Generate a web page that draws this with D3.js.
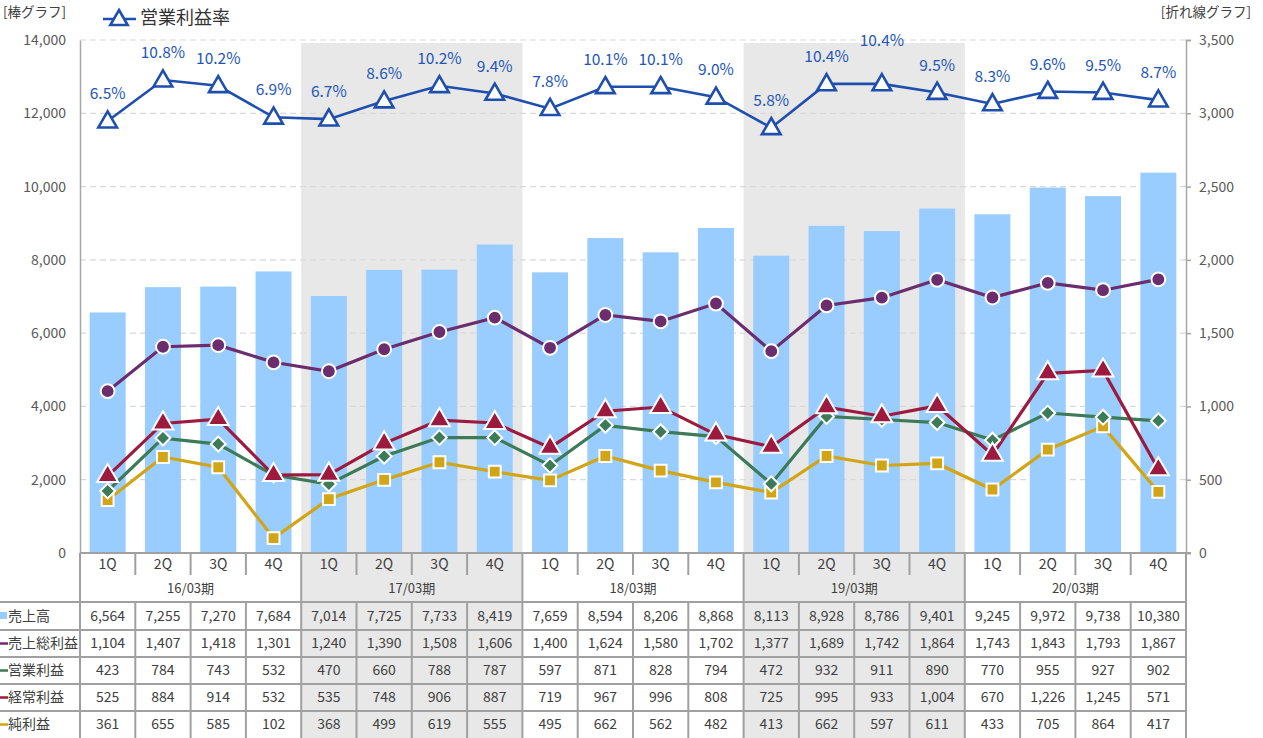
<!DOCTYPE html>
<html><head><meta charset="utf-8">
<script src="https://cdn.jsdelivr.net/npm/d3@7"></script>
<style>
body{margin:0;background:#fff;}
svg{display:block;font-family:"Noto Sans CJK JP","Noto Sans",sans-serif;}
</style></head>
<body>
<script>
const quarters = ["1Q","2Q","3Q","4Q"];
const periods = ["16/03期","17/03期","18/03期","19/03期","20/03期"];
const shadedPeriods = [1,3];
const sales = [6564,7255,7270,7684,7014,7725,7733,8419,7659,8594,8206,8868,8113,8928,8786,9401,9245,9972,9738,10380];
const grossProfit = [1104,1407,1418,1301,1240,1390,1508,1606,1400,1624,1580,1702,1377,1689,1742,1864,1743,1843,1793,1867];
const opProfit = [423,784,743,532,470,660,788,787,597,871,828,794,472,932,911,890,770,955,927,902];
const ordProfit = [525,884,914,532,535,748,906,887,719,967,996,808,725,995,933,1004,670,1226,1245,571];
const netProfit = [361,655,585,102,368,499,619,555,495,662,562,482,413,662,597,611,433,705,864,417];
const opMargin = [6.5,10.8,10.2,6.9,6.7,8.6,10.2,9.4,7.8,10.1,10.1,9.0,5.8,10.4,10.4,9.5,8.3,9.6,9.5,8.7];
const leftTicks = [0,2000,4000,6000,8000,10000,12000,14000];
const rightTicks = [0,500,1000,1500,2000,2500,3000,3500];

const W=1263,H=738;
const L=80,R=1186,T=40,B=553;
const svg=d3.select("body").append("svg").attr("width",W).attr("height",H);

const n=sales.length;
const x=d3.scaleBand().domain(d3.range(n)).range([L,R]).paddingInner(0).paddingOuter(0);
const cx=i=>x(i)+x.bandwidth()/2;
const yL=d3.scaleLinear().domain([0,14000]).range([B,T]);
const yR=d3.scaleLinear().domain([0,3500]).range([B,T]);
const yP=d3.scaleLinear().domain([0,10]).range([183,87.7]);

const qRowBot=575, pRowBot=602;
const rowLines=[602,630,657,684,711,738];

shadedPeriods.forEach(p=>{
  svg.append("rect").attr("x",x(p*4)).attr("y",43).attr("width",x.bandwidth()*4).attr("height",H-43).attr("fill","#e8e8e8");
});

svg.append("g").selectAll("line").data(leftTicks.filter(d=>d>0)).join("line")
  .attr("x1",L).attr("x2",R).attr("y1",d=>yL(d)).attr("y2",d=>yL(d))
  .attr("stroke","#d9d9d9").attr("stroke-width",1.2).attr("stroke-dasharray","6,4");

svg.append("g").selectAll("rect").data(sales).join("rect")
  .attr("x",(d,i)=>cx(i)-18).attr("width",36)
  .attr("y",d=>yL(d)).attr("height",d=>B-yL(d)).attr("fill","#99ccff");

const axL=svg.append("g").attr("transform",`translate(${L},0)`).call(d3.axisLeft(yL).tickValues(leftTicks).tickSize(0).tickPadding(14).tickFormat(d3.format(",")));
axL.select(".domain").attr("stroke","#a6a6a6").attr("stroke-width",1.5);
axL.selectAll("text").attr("font-size",14).attr("fill","#595959").attr("font-family","'Noto Sans CJK JP'");
const axR=svg.append("g").attr("transform",`translate(${R},0)`).call(d3.axisRight(yR).tickValues(rightTicks).tickSize(5).tickPadding(8).tickFormat(d3.format(",")));
axR.select(".domain").attr("stroke","#a6a6a6").attr("stroke-width",1.5);
axR.selectAll(".tick line").attr("stroke","#a6a6a6").attr("stroke-width",1.5);
axR.selectAll("text").attr("font-size",14).attr("fill","#595959").attr("font-family","'Noto Sans CJK JP'");

const series=[
  {name:"売上総利益",data:grossProfit,color:"#6b2d6e",shape:"circle"},
  {name:"営業利益",data:opProfit,color:"#3d7a57",shape:"diamond"},
  {name:"経常利益",data:ordProfit,color:"#9c1a3e",shape:"triangle"},
  {name:"純利益",data:netProfit,color:"#d2a517",shape:"square"}
];
const lineGen=d3.line().x((d,i)=>cx(i));
const drawOrder=[3,1,2,0];
drawOrder.forEach(k=>{
  const s=series[k];
  svg.append("path").datum(s.data).attr("fill","none").attr("stroke",s.color).attr("stroke-width",3.2)
    .attr("d",lineGen.y(d=>yR(d)));
});
const symMap={circle:[d3.symbolCircle,150,0],diamond:[d3.symbolSquare,110,45],triangle:[d3.symbolTriangle,190,0],square:[d3.symbolSquare,140,0]};
drawOrder.forEach(k=>{
  const s=series[k];
  const [t,sz,rot]=symMap[s.shape];
  svg.append("g").selectAll("path").data(s.data).join("path")
    .attr("transform",(d,i)=>`translate(${cx(i)},${yR(d)}) rotate(${rot})`)
    .attr("d",d3.symbol().type(t).size(sz)())
    .attr("fill",s.color).attr("stroke","#fff").attr("stroke-width",2);
});

const blue="#1f4fae";
svg.append("path").datum(opMargin).attr("fill","none").attr("stroke",blue).attr("stroke-width",2.6)
  .attr("d",d3.line().x((d,i)=>cx(i)).y(d=>yP(d)));
svg.append("g").selectAll("path").data(opMargin).join("path")
  .attr("transform",(d,i)=>`translate(${cx(i)},${yP(d)+1})`)
  .attr("d",d3.symbol().type(d3.symbolTriangle).size(150)())
  .attr("fill","#fff").attr("stroke",blue).attr("stroke-width",2.6);
svg.append("g").selectAll("text").data(opMargin).join("text")
  .attr("x",(d,i)=>cx(i)).attr("y",(d,i)=>yP(d)-(i===14?42:26))
  .attr("text-anchor","middle").attr("dominant-baseline","middle")
  .attr("font-size",15.5).attr("fill","#2356b8")
  .text(d=>d3.format(".1f")(d)+"%");

svg.append("line").attr("x1",103).attr("x2",136).attr("y1",19).attr("y2",19).attr("stroke",blue).attr("stroke-width",2.6);
svg.append("path").attr("transform","translate(119,20)").attr("d",d3.symbol().type(d3.symbolTriangle).size(130)()).attr("fill","#fff").attr("stroke",blue).attr("stroke-width",2.6);
svg.append("text").attr("x",140).attr("y",19).attr("dominant-baseline","middle").attr("font-size",18).attr("fill","#333").text("営業利益率");
svg.append("text").attr("x",3).attr("y",13).attr("dominant-baseline","middle").attr("font-size",13.5).attr("fill","#404040").text("[棒グラフ]");
svg.append("text").attr("x",1251).attr("y",13).attr("text-anchor","end").attr("dominant-baseline","middle").attr("font-size",13.5).attr("fill","#404040").text("[折れ線グラフ]");

const tb=svg.append("g");
const gridC="#a0a0a0", gw=2;
tb.selectAll("text.q").data(d3.range(n)).join("text").attr("class","q")
  .attr("x",i=>cx(i)).attr("y",(B+qRowBot)/2+1).attr("text-anchor","middle").attr("dominant-baseline","middle")
  .attr("font-size",14).attr("fill","#404040").text(i=>quarters[i%4]);
tb.selectAll("text.p").data(periods).join("text").attr("class","p")
  .attr("x",(d,p)=>x(p*4)+x.bandwidth()*2).attr("y",(qRowBot+pRowBot)/2+1).attr("text-anchor","middle").attr("dominant-baseline","middle")
  .attr("font-size",13).attr("fill","#404040").text(d=>d);
const rows=[
  {name:"売上高",data:sales,color:"#99ccff",mark:"sq"},
  {name:"売上総利益",data:grossProfit,color:series[0].color,mark:"ln"},
  {name:"営業利益",data:opProfit,color:series[1].color,mark:"ln"},
  {name:"経常利益",data:ordProfit,color:series[2].color,mark:"ln"},
  {name:"純利益",data:netProfit,color:series[3].color,mark:"ln"}
];
rows.forEach((r,k)=>{
  const y0=rowLines[k],y1=rowLines[k+1],ym=(y0+y1)/2;
  if(r.mark==="sq") tb.append("rect").attr("x",0).attr("y",ym-4).attr("width",7).attr("height",7).attr("fill",r.color);
  else tb.append("line").attr("x1",0).attr("x2",8).attr("y1",ym).attr("y2",ym).attr("stroke",r.color).attr("stroke-width",2.5);
  tb.append("text").attr("x",8).attr("y",ym+1).attr("dominant-baseline","middle").attr("font-size",14).attr("fill","#404040").text(r.name);
  tb.selectAll(null).data(r.data).join("text")
    .attr("x",(d,i)=>cx(i)).attr("y",ym+1).attr("text-anchor","middle").attr("dominant-baseline","middle")
    .attr("font-size",14).attr("fill","#404040").text(d=>d3.format(",")(d));
});
rowLines.slice(0,5).forEach(y=>tb.append("line").attr("x1",0).attr("x2",R).attr("y1",y).attr("y2",y).attr("stroke",gridC).attr("stroke-width",gw));
tb.append("line").attr("x1",L).attr("x2",R+5).attr("y1",B).attr("y2",B).attr("stroke",gridC).attr("stroke-width",gw);
d3.range(n+1).forEach(i=>{
  const xx=i===n?R:x(i);
  const full=i%4===0;
  tb.append("line").attr("x1",xx).attr("x2",xx).attr("y1",B).attr("y2",full?H:qRowBot).attr("stroke",gridC).attr("stroke-width",gw);
  if(!full) tb.append("line").attr("x1",xx).attr("x2",xx).attr("y1",pRowBot).attr("y2",H).attr("stroke",gridC).attr("stroke-width",gw);
});
</script>
</body></html>
